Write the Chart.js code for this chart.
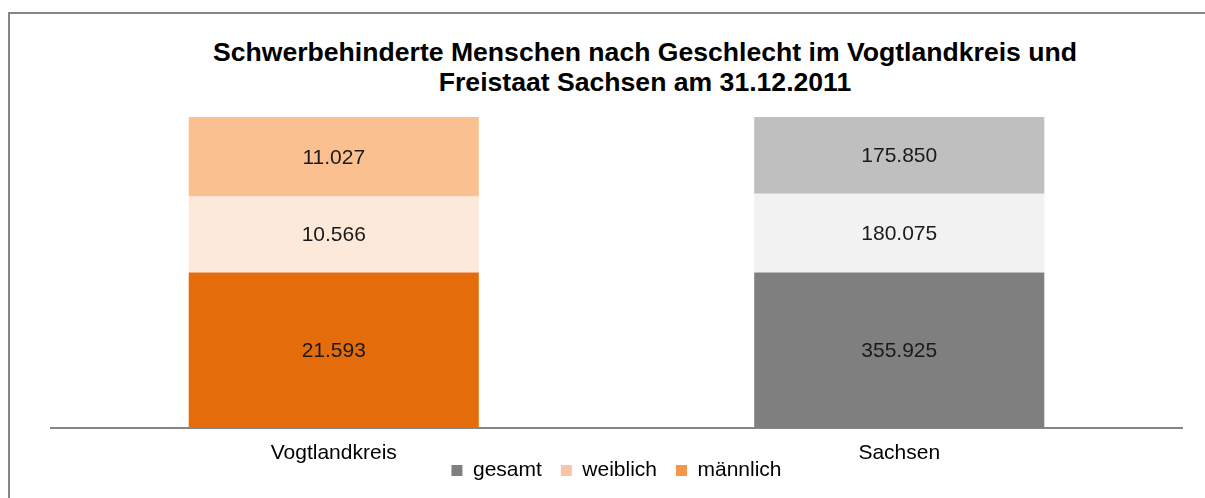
<!DOCTYPE html>
<html lang="de">
<head>
<meta charset="utf-8">
<title>Schwerbehinderte Menschen nach Geschlecht</title>
<script src="https://cdn.jsdelivr.net/npm/chart.js@4/dist/chart.umd.min.js"></script>
<style>
  html, body { margin: 0; padding: 0; background: #fff; overflow: hidden; }
  #rahmen {
    position: absolute; left: 8px; top: 12px; width: 1300px; height: 600px;
    border: 2px solid #868686; box-sizing: border-box;
  }
  #titel {
    position: absolute; left: 0; top: 37px; width: 1290px; text-align: center;
    font: bold 26.6px "Liberation Sans", Arial, sans-serif; line-height: 30px; color: #000;
  }
  /* etwas hoeher als das Fenster, die Legende wird nach oben geschoben */
  #box { position: absolute; left: 0; top: 0; width: 1205px; height: 518px; }
</style>
</head>
<body>
<div id="rahmen"></div>
<div id="titel">Schwerbehinderte Menschen nach Geschlecht im Vogtlandkreis und<br>Freistaat Sachsen am 31.12.2011</div>
<div id="box"><canvas id="grafik"></canvas></div>
<script>
// Werte aus der Grafik
const kategorien = ['Vogtlandkreis', 'Sachsen'];
const gesamt = [21593, 355925];
const weiblich = [10566, 180075];
const maennlich = [11027, 175850];

// Farben je Balken (Vogtlandkreis orange, Sachsen grau) und Legende
const farbenGesamt = ['#e46c0a', '#7f7f7f'];
const farbenWeiblich = ['#fde9d9', '#f2f2f2'];
const farbenMaennlich = ['#fac090', '#bfbfbf'];
const legendenFarben = ['#808080', '#fbc4a9', '#f79646'];

const schrift = '"Liberation Sans", Arial, sans-serif';

// Balken werden als Anteil an der Saeulensumme gestapelt (100%)
const summen = kategorien.map((_, i) => gesamt[i] + weiblich[i] + maennlich[i]);
const anteil = (werte) => werte.map((w, i) => w / summen[i] * 100);

const format = (n) => String(n).replace(/\B(?=(\d{3})+(?!\d))/g, '.');

// eigene Beschriftung in der Mitte jedes Segments
const wertLabels = {
    id: 'wertLabels',
    afterDatasetsDraw(chart) {
        const ctx = chart.ctx;
        ctx.save();
        ctx.font = '21px ' + schrift;
        ctx.fillStyle = '#1a1a1a';
        ctx.textAlign = 'center';
        ctx.textBaseline = 'middle';
        chart.data.datasets.forEach((ds, i) => {
            chart.getDatasetMeta(i).data.forEach((bar, j) => {
                const p = bar.getProps(['x', 'y', 'base'], true);
                ctx.fillText(format(ds.werte[j]), p.x, (p.y + p.base) / 2 + 1);
            });
        });
        ctx.restore();
    }
};

// Legende sitzt in der Vorlage dicht unter den Achsenbeschriftungen
const legendeHoch = {
    id: 'legendeHoch',
    afterLayout(chart) {
        const l = chart.legend;
        if (!l) return;
        l.top -= 27;
        l.bottom -= 27;
    }
};

const ctx = document.getElementById('grafik').getContext('2d');
new Chart(ctx, {
    type: 'bar',
    data: {
        labels: kategorien,
        datasets: [
            { label: 'gesamt', data: anteil(gesamt), werte: gesamt, backgroundColor: farbenGesamt },
            { label: 'weiblich', data: anteil(weiblich), werte: weiblich, backgroundColor: farbenWeiblich },
            { label: 'männlich', data: anteil(maennlich), werte: maennlich, backgroundColor: farbenMaennlich }
        ]
    },
    options: {
        responsive: true,
        maintainAspectRatio: false,
        animation: false,
        categoryPercentage: 1,
        barPercentage: 0.513,
        layout: { padding: { left: 51, right: 23, top: 117, bottom: 0 } },
        plugins: {
            title: { display: false },
            tooltip: { enabled: false },
            legend: {
                display: true,
                position: 'bottom',
                labels: {
                    boxWidth: 11,
                    boxHeight: 11,
                    padding: 19,
                    color: '#000',
                    font: { family: schrift, size: 21 },
                    generateLabels: (chart) => chart.data.datasets.map((ds, i) => ({
                        text: ds.label,
                        fillStyle: legendenFarben[i],
                        strokeStyle: legendenFarben[i],
                        lineWidth: 0,
                        hidden: false,
                        datasetIndex: i
                    }))
                }
            }
        },
        scales: {
            x: {
                stacked: true,
                grid: { display: false, drawTicks: false },
                border: { display: true, color: '#868686', width: 2 },
                ticks: { color: '#000', padding: 13, font: { family: schrift, size: 21 } },
                afterFit: (axis) => { axis.height = 40; }
            },
            y: {
                stacked: true,
                display: false,
                min: 0,
                max: 100
            }
        }
    },
    plugins: [wertLabels, legendeHoch]
});
</script>
</body>
</html>
